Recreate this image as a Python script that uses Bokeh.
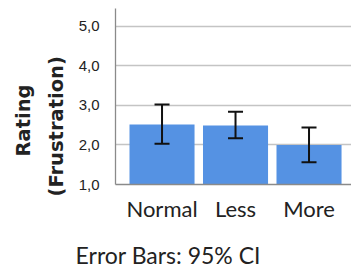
from bokeh.plotting import figure
from bokeh.models import Range1d, FixedTicker, Whisker, TeeHead, ColumnDataSource, Title, LinearAxis
from bokeh.embed import file_html
from bokeh.resources import INLINE

categories = ["Normal", "Less", "More"]
means = [2.52, 2.49, 2.00]
ci_low = [2.03, 2.17, 1.56]
ci_high = [3.02, 2.84, 2.44]
y_ticks = [1, 2, 3, 4, 5]
y_tick_labels = ["1,0", "2,0", "3,0", "4,0", "5,0"]
note_text = "Error Bars: 95% CI"

# layout constant: horizontal anchor of the footnote on the x scale
NOTE_X = 0.085

xpos = list(range(len(categories)))
src = ColumnDataSource(dict(x=xpos, top=means, lo=ci_low, hi=ci_high))

p = figure(width=351, height=271, output_backend="svg", toolbar_location=None,
           x_range=Range1d(-0.633, 2.578), y_range=Range1d(1, 5.45),
           min_border_left=115, min_border_right=0, min_border_top=8, min_border_bottom=85)
p.outline_line_color = None
p.background_fill_color = "white"

p.vbar(x="x", top="top", bottom=1, width=0.885, source=src, fill_color="#5592e3", line_color=None)

w = Whisker(base="x", lower="lo", upper="hi", source=src, line_color="#111111", line_width=2,
            upper_head=TeeHead(size=15, line_width=2, line_color="#111111"),
            lower_head=TeeHead(size=15, line_width=2, line_color="#111111"))
w.level = "overlay"
p.add_layout(w)

p.xgrid.visible = False
p.ygrid.ticker = FixedTicker(ticks=y_ticks)
p.ygrid.grid_line_color = "#c4c4c4"
p.ygrid.grid_line_width = 1.3
p.ygrid.level = "underlay"

p.yaxis.ticker = FixedTicker(ticks=y_ticks)
p.yaxis.major_label_overrides = {t: l for t, l in zip(y_ticks, y_tick_labels)}
p.yaxis.major_tick_line_color = None
p.yaxis.minor_tick_line_color = None
p.yaxis.axis_line_color = "#8a8a8a"
p.yaxis.axis_line_width = 1.3
p.yaxis.major_label_text_font = "Liberation Sans"
p.yaxis.major_label_text_font_size = "15px"
p.yaxis.major_label_text_color = "#222222"
p.yaxis.major_label_standoff = 10

p.xaxis.ticker = FixedTicker(ticks=xpos)
p.xaxis.major_label_overrides = {i: c for i, c in enumerate(categories)}
p.xaxis.major_tick_line_color = None
p.xaxis.minor_tick_line_color = None
p.xaxis.axis_line_color = "#8a8a8a"
p.xaxis.axis_line_width = 1.3
p.xaxis.major_label_text_font = "Lato"
p.xaxis.major_label_text_font_size = "22px"
p.xaxis.major_label_text_color = "#222222"
p.xaxis.major_label_standoff = 4

note_axis = LinearAxis(ticker=FixedTicker(ticks=[NOTE_X]),
                       major_label_overrides={NOTE_X: note_text},
                       axis_line_color=None, major_tick_line_color=None,
                       minor_tick_line_color=None, major_tick_out=0, major_tick_in=0,
                       major_label_standoff=16, major_label_text_font="Lato",
                       major_label_text_font_size="23px", major_label_text_color="#222222")
p.add_layout(note_axis, "below")

p.add_layout(Title(text="(Frustration)", align="left", offset=-12, standoff=15,
                   text_font="DejaVu Sans", text_font_style="bold", text_font_size="19.5px",
                   text_color="#222222"), "left")
p.add_layout(Title(text="Rating", align="left", offset=28, standoff=2,
                   text_font="DejaVu Sans", text_font_style="bold", text_font_size="19.5px",
                   text_color="#222222"), "left")

open("out.html", "w").write(file_html(p, INLINE))
